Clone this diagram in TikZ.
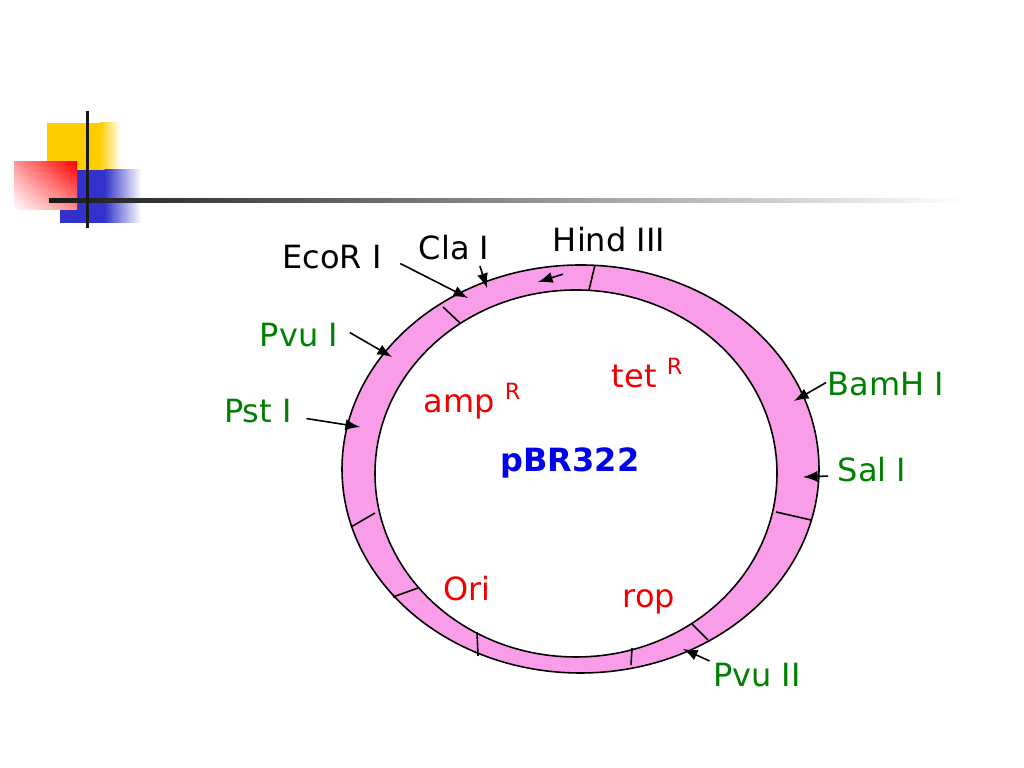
\documentclass[tikz,border=0pt]{standalone}
\usepackage{fontspec}
\setmainfont{DejaVu Sans}
\usepackage{xcolor}
\usepackage{tikz}
\usetikzlibrary{calc}
\usetikzlibrary{shadings}
\definecolor{ringpink}{RGB}{249,157,233}
\definecolor{sitegreen}{RGB}{0,128,0}
\definecolor{genered}{RGB}{240,0,0}
\definecolor{plasblue}{RGB}{0,0,235}
\definecolor{slideyellow}{RGB}{255,204,0}
\definecolor{slideblue}{RGB}{51,51,204}
\definecolor{slidered}{RGB}{255,0,0}

\begin{document}
\begin{tikzpicture}[x=0.01cm,y=-0.01cm,
        lbl/.style={inner sep=0pt, anchor=base, font=\fontsize{9.1}{11}\selectfont},
        enz/.style={lbl, text=sitegreen},
        gene/.style={lbl, text=genered},
        site/.style={-latex, line width=0.45pt}]
    \useasboundingbox (0,0) rectangle (1024,768);
    \fill[slideyellow] (47,123) rectangle (100,170);
    \shade[left color=slideyellow, right color=white] (99.5,123) rectangle (121,170);
    \fill[slideblue] (60,170) rectangle (105,223);
    \shade[left color=slideblue, right color=white] (104.5,170) rectangle (141,223);
    \shade[upper right=slidered, upper left=slidered!40!white, lower right=slidered!45!white,
        lower left=white] (14,162) rectangle (77,210);
    \shade[left color=black!90, right color=white] (49,198.5) rectangle (965,202.5);
    \fill[black!90] (85.5,111) rectangle (88.5,228);
    \fill[ringpink, even odd rule] (580.5,469) ellipse [x radius=238.5, y radius=204]
        (576,473.5) ellipse [x radius=201, y radius=183.5];
    \begin{scope}[line width=0.45pt]
        \draw (580.5,469) ellipse [x radius=238.5, y radius=204];
        \draw (576,473.5) ellipse [x radius=201, y radius=183.5];
        \foreach \xa/\ya/\xb/\yb in {595/265/589/290, 443/307/460/323, 351/527/375/513, 393/597/418/588,
            477/632/478/656, 632/648/631/665, 692/624/708/640, 776/512/811/520}
            \draw (\xa,\ya) -- (\xb,\yb);
    \end{scope}
    \node[lbl] (ecor) at (332,269) {EcoR I};
    \node[lbl] (cla) at (454,260) {Cla I};
    \node[lbl] (hind) at (609,252) {Hind III};
    \node[enz] (pvui) at (299,347) {Pvu I};
    \node[enz] (pst) at (258,423) {Pst I};
    \node[enz] (bamh) at (886,396) {BamH I};
    \node[enz] (sal) at (872,482) {Sal I};
    \node[enz] (pvuii) at (757,687) {Pvu II};
    \node[gene] (amp) at (473,413) {amp \textsuperscript{R}};
    \node[gene] (tet) at (648,388) {tet \textsuperscript{R}};
    \node[gene] (ori) at (467,601) {Ori};
    \node[gene] (rop) at (649,608) {rop};
    \node[lbl, text=plasblue, font=\fontsize{9.1}{11}\selectfont\bfseries] (pbr) at (570,472) {pBR322};
    \coordinate (ecorS) at (468,298);
    \coordinate (claS) at (487,288);
    \coordinate (hindS) at (538,282);
    \coordinate (pvuiS) at (392,357);
    \coordinate (pstS) at (360,427);
    \coordinate (bamhS) at (794,401);
    \coordinate (salS) at (803,477);
    \coordinate (pvuiiS) at (683,649);
    \draw[site] ([shift={(18,6)}]ecor.east) -- (ecorS);
    \draw[site] ([shift={(-10,5)}]cla.south east) -- (claS);
    \draw[site] ([shift={(-46,21)}]hind.south) -- (hindS);
    \draw[site] ([shift={(11,-3)}]pvui.east) -- (pvuiS);
    \draw[site] ([shift={(14,7)}]pst.east) -- (pstS);
    \draw[site] ([shift={(-1,-2)}]bamh.west) -- (bamhS);
    \draw[site] ([shift={(-9,6)}]sal.west) -- (salS);
    \draw[site] ([shift={(-3,-2)}]pvuii.north west) -- (pvuiiS);
\end{tikzpicture}
\end{document}
